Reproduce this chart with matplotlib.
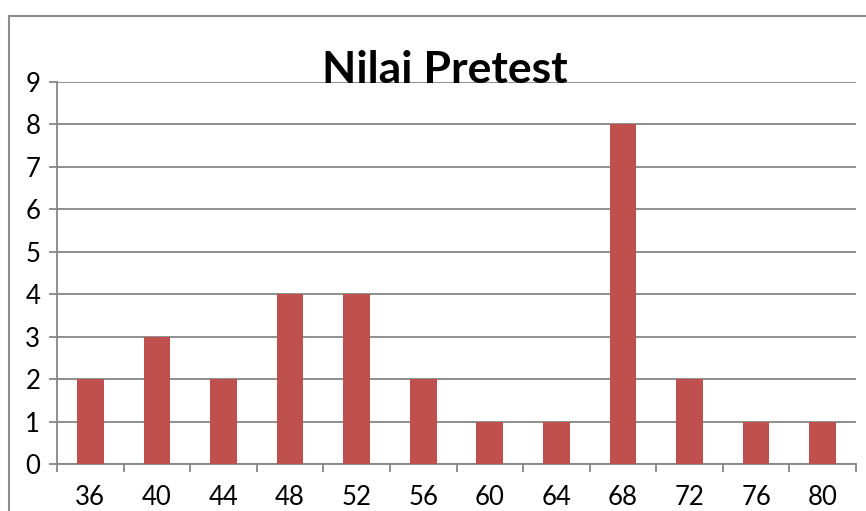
import matplotlib.pyplot as plt
from matplotlib.patches import Rectangle
import numpy as np

# --- data ---
nilai = ['36', '40', '44', '48', '52', '56', '60', '64', '68', '72', '76', '80']
frekuensi = [2, 3, 2, 4, 4, 2, 1, 1, 8, 2, 1, 1]
y_ticks = list(range(0, 10))

W, H = 866, 511
fig = plt.figure(figsize=(W / 100, H / 100), dpi=100)
plt.rcParams['font.family'] = ['Lato', 'DejaVu Sans']

# outer chart frame (cut off at right/bottom like the screenshot)
fig.patches.append(Rectangle((9 / W, -0.1), 1.1, 1.1 - 16 / H,
                             transform=fig.transFigure, fill=False,
                             edgecolor='#8c8c8c', linewidth=1.5))

# plot area
left, right, top, bottom = 57, 856, 82, 464
ax = fig.add_axes([left / W, 1 - bottom / H, (right - left) / W, (bottom - top) / H])

grid_col = '#868686'
x = np.arange(len(nilai))
ax.bar(x, frekuensi, width=0.4, color='#C0504D', zorder=3)

ax.set_xlim(-0.5, len(nilai) - 0.5)
ax.set_ylim(0, 9)
ax.set_yticks(y_ticks)
ax.yaxis.grid(True, color=grid_col, linewidth=1.3, zorder=0)
# category boundaries carry the tick marks, labels sit in between
ax.set_xticks(np.arange(len(nilai) + 1) - 0.5)
ax.set_xticklabels([''] * (len(nilai) + 1))
ax.set_xticks(x, minor=True)
ax.set_xticklabels(nilai, minor=True)

for s in ['top', 'right']:
    ax.spines[s].set_visible(False)
for s in ['left', 'bottom']:
    ax.spines[s].set_color(grid_col)
    ax.spines[s].set_linewidth(1.3)

ax.tick_params(axis='y', length=6, width=1.3, color=grid_col, labelsize=18.5, pad=6)
ax.tick_params(axis='x', which='major', length=6, width=1.3, color=grid_col, direction='out')
ax.tick_params(axis='x', which='minor', length=0, labelsize=18.5, pad=15)

fig.text(445 / W, 1 - 83 / H, 'Nilai Pretest', ha='center', va='baseline',
         fontsize=32, fontweight='bold')

fig.savefig('out.png', dpi=100)
